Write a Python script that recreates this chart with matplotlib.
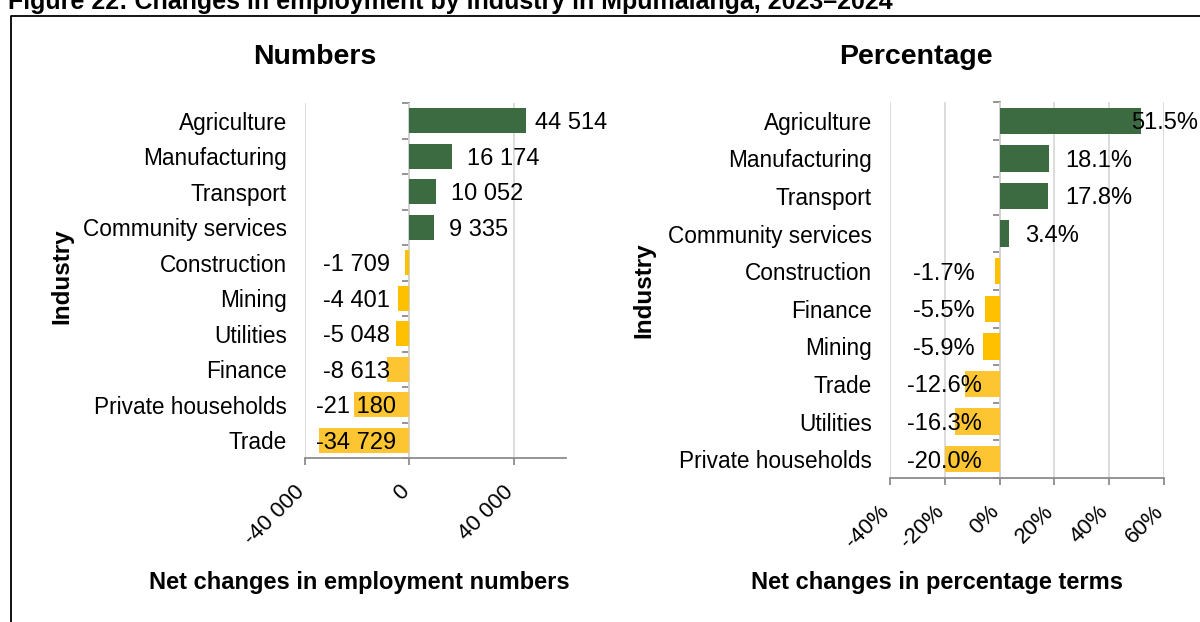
import numpy as np
import matplotlib.pyplot as plt
import matplotlib.transforms as mtransforms
from matplotlib.lines import Line2D

plt.rcParams["font.family"] = ["Liberation Sans", "DejaVu Sans"]

# net change in employment (numbers)
num_industries = ["Agriculture", "Manufacturing", "Transport", "Community services",
                  "Construction", "Mining", "Utilities", "Finance",
                  "Private households", "Trade"]
num_values = [44514, 16174, 10052, 9335, -1709, -4401, -5048, -8613, -21180, -34729]
num_ticks = [-40000, 0, 40000]
num_ticklabels = ["-40 000", "0", "40 000"]

# net change in employment (percentage)
pct_industries = ["Agriculture", "Manufacturing", "Transport", "Community services",
                  "Construction", "Finance", "Mining", "Trade", "Utilities",
                  "Private households"]
pct_values = [51.5, 18.1, 17.8, 3.4, -1.7, -5.5, -5.9, -12.6, -16.3, -20.0]
pct_ticks = [-40, -20, 0, 20, 40, 60]
pct_ticklabels = ["-40%", "-20%", "0%", "20%", "40%", "60%"]

GREEN = "#3D6B41"
YELLOW = "#FFC000"
YELLOW_LIGHT = "#FDC532"
GRID = "#D9D9D9"
AXIS = "#8C8C8C"

W, H = 1200, 622
fig = plt.figure(figsize=(W / 100, H / 100), dpi=100)


def draw(ax, cats, values, xlim, ticks, ticklabels, fmt):
    n = len(cats)
    x0, x1 = xlim
    span = x1 - x0
    y = np.arange(n)
    colors = []
    for v in values:
        if v >= 0:
            colors.append(GREEN)
        elif (v - x0) / span < 0.335:
            colors.append(YELLOW_LIGHT)
        else:
            colors.append(YELLOW)
    ax.barh(y, values, height=0.7, color=colors, zorder=2)

    ax.set_xlim(x0, x1)
    ax.set_ylim(n - 0.5, -0.5)
    ax.set_yticks(y)
    ax.set_yticklabels(cats, fontsize=16.3)
    ax.tick_params(axis="y", length=0, pad=13)
    ax.set_xticks(ticks)
    ax.set_xticklabels(ticklabels, fontsize=16, rotation=45, ha="right",
                       va="baseline", rotation_mode="anchor")
    ax.tick_params(axis="x", length=5, width=1.3, color=AXIS, pad=20)
    ax.grid(axis="x", color=GRID, lw=1.3, zorder=0)
    ax.set_axisbelow(True)
    for s in ["top", "right", "left"]:
        ax.spines[s].set_visible(False)
    ax.spines["bottom"].set_color(AXIS)
    ax.spines["bottom"].set_linewidth(1.3)

    # category axis drawn at zero with ticks between bars
    zero = (0 - x0) / span
    sec = ax.secondary_yaxis(zero)
    sec.set_yticks(np.arange(-0.5, n, 1))
    sec.yaxis.set_ticks_position("left")
    sec.tick_params(axis="y", length=5, width=1.3, color=AXIS, labelleft=False,
                    labelright=False)
    for s in sec.spines.values():
        s.set_color(AXIS)
        s.set_linewidth(1.3)

    trans = mtransforms.blended_transform_factory(ax.transAxes, ax.transData)
    for i, v in enumerate(values):
        if v >= 0:
            xl = min(v + 0.06 * span, x0 + 0.88 * span)
            ax.text(xl, i, fmt(v), fontsize=17, va="center_baseline", ha="left",
                    zorder=3, clip_on=False)
        else:
            ax.text(0.197, i, fmt(v), fontsize=17, va="center_baseline",
                    ha="center", transform=trans, zorder=3)


ax1 = fig.add_axes([305 / W, 1 - 458 / H, 261 / W, 355 / H])
draw(ax1, num_industries, num_values, (-40000, 60000), num_ticks, num_ticklabels,
     lambda v: f"{v:,}".replace(",", " "))
ax1.set_xlabel("Net changes in employment numbers", fontsize=17, fontweight="bold")
ax1.xaxis.set_label_coords((359 - 305) / 261, (458 - 571) / 355)

ax2 = fig.add_axes([890 / W, 1 - 478 / H, 274 / W, 376 / H])
draw(ax2, pct_industries, pct_values, (-40, 60), pct_ticks, pct_ticklabels,
     lambda v: f"{v:.1f}%")
ax2.set_xlabel("Net changes in percentage terms", fontsize=17, fontweight="bold")
ax2.xaxis.set_label_coords((937 - 890) / 274, (478 - 571) / 376)

fig.text(315 / W, 1 - 57 / H, "Numbers", fontsize=20.5, fontweight="bold",
         ha="center", va="center")
fig.text(916 / W, 1 - 57 / H, "Percentage", fontsize=20.5, fontweight="bold",
         ha="center", va="center")
fig.text(62 / W, 1 - 276 / H, "Industry", fontsize=17.5, fontweight="bold",
         rotation=90, ha="center", va="center")
fig.text(644 / W, 1 - 290 / H, "Industry", fontsize=17.5, fontweight="bold",
         rotation=90, ha="center", va="center")

fig.text(8 / W, 1 - 9 / H, "Figure 22: Changes in employment by industry in Mpumalanga, 2023\u20132024",
         fontsize=18, fontweight="bold", ha="left", va="baseline")

# frame around the chart
fig.add_artist(Line2D([11 / W, 11 / W, 1.0], [0.0, 1 - 16 / H, 1 - 16 / H],
                      transform=fig.transFigure, color="black", lw=1.3))

fig.savefig("out.png", dpi=100)
